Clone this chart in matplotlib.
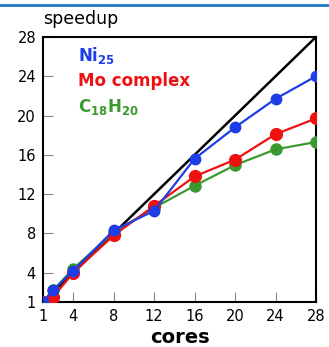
import matplotlib.pyplot as plt
from matplotlib.lines import Line2D

cores = [1, 2, 4, 8, 12, 16, 20, 24, 28]
ni25 = [1.0, 2.2, 4.2, 8.3, 10.3, 15.6, 18.8, 21.7, 24.0]
mo_complex = [1.0, 1.5, 4.0, 7.8, 10.8, 13.8, 15.5, 18.1, 19.7]
c18h20 = [1.0, 2.2, 4.4, 8.1, 10.6, 12.85, 14.95, 16.55, 17.3]
ideal = [1, 28]

ticks = [1, 4, 8, 12, 16, 20, 24, 28]

fig = plt.figure(figsize=(3.29, 3.47), dpi=100)
ax = fig.add_axes([0.1307, 0.1297, 0.8298, 0.7637])

# thin blue rule at the very top of the picture
fig.add_artist(Line2D([0, 1], [0.987, 0.987], color='#1f78c8', lw=2.0,
                      transform=fig.transFigure))

ax.plot(ideal, ideal, color='black', lw=1.8, zorder=2)
ax.plot(cores, c18h20, color='#3a9a30', lw=1.6, marker='o', ms=8, zorder=3)
ax.plot(cores, mo_complex, color='#ee1111', lw=1.6, marker='o', ms=8.5, zorder=4)
ax.plot(cores, ni25, color='#1d3ee6', lw=1.6, marker='o', ms=7.5, zorder=5)

ax.set_xlim(1, 28)
ax.set_ylim(1, 28)
ax.set_xticks(ticks)
ax.set_yticks(ticks)
ax.tick_params(direction='in', length=7, labelsize=10.5, width=0.8,
               color='#888888', pad=5)
for s in ax.spines.values():
    s.set_linewidth(1.5)

ax.set_xlabel('cores', fontsize=14, fontweight='bold', labelpad=3)
fig.text(0.131, 0.93, 'speedup', fontsize=12.5)

ax.text(0.13, 0.93, 'Ni$_\\mathbf{25}$', color='#1d3ee6', fontsize=12,
        fontweight='bold', transform=ax.transAxes, va='center')
ax.text(0.13, 0.835, 'Mo complex', color='#ee1111', fontsize=12,
        fontweight='bold', transform=ax.transAxes, va='center')
ax.text(0.13, 0.735, 'C$_\\mathbf{18}$H$_\\mathbf{20}$', color='#3a9a30', fontsize=12,
        fontweight='bold', transform=ax.transAxes, va='center')

fig.savefig('out.png', dpi=100)
